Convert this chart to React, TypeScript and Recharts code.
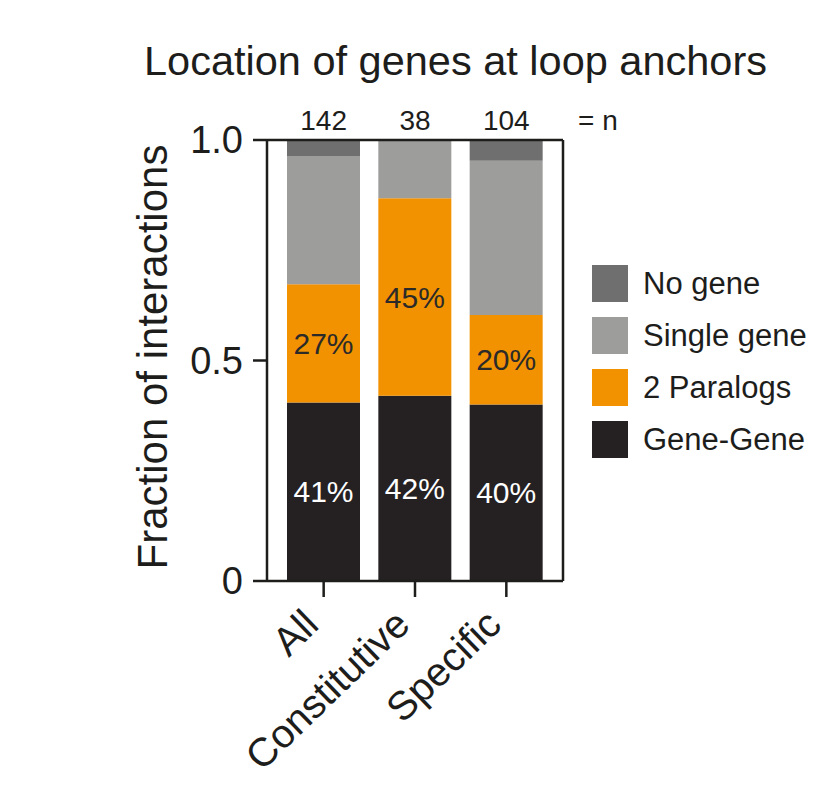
import React from "react";
import {
  BarChart,
  Bar,
  XAxis,
  YAxis,
  LabelList,
  Label,
} from "recharts";

const categories = ["All", "Constitutive", "Specific"];
const nCounts = ["142", "38", "104"];
const geneGene = [0.405, 0.42, 0.4];
const paralogs = [0.268, 0.448, 0.203];
const singleGene = [0.291, 0.132, 0.35];
const noGene = [0.036, 0, 0.047];
const geneGeneLabels = ["41%", "42%", "40%"];
const paralogLabels = ["27%", "45%", "20%"];
const yTicks = [0, 0.5, 1];
const yTickLabels = ["0", "0.5", "1.0"];

const legendItems = [
  { name: "No gene", color: "#706f6f" },
  { name: "Single gene", color: "#9d9d9c" },
  { name: "2 Paralogs", color: "#f39200" },
  { name: "Gene-Gene", color: "#252122" },
];

const INK = "#1d1d1b";
const FONT = "'Liberation Sans', Arial, Helvetica, sans-serif";

const data = categories.map((name, i) => ({
  name,
  geneGene: geneGene[i],
  paralogs: paralogs[i],
  singleGene: singleGene[i],
  noGene: noGene[i],
  geneLabel: geneGeneLabels[i],
  paraLabel: paralogLabels[i],
}));

function SlantTick(props: any) {
  const { x, y, payload } = props;
  return (
    <g transform={`translate(${x - 3},${y + 28})`}>
      <text
        textAnchor="end"
        transform="rotate(-44)"
        fontSize={40}
        fill={INK}
        fontFamily={FONT}
      >
        {payload.value}
      </text>
    </g>
  );
}

export default function App() {
  return (
    <div style={{ position: "relative", width: 838, height: 786, fontFamily: FONT }}>
      <style>{"body{margin:0}"}</style>
      <div
        style={{
          position: "absolute",
          left: 100,
          width: 711,
          top: 40,
          textAlign: "center",
          fontSize: 41.5,
          lineHeight: "41px",
          color: INK,
        }}
      >
        Location of genes at loop anchors
      </div>
      <BarChart
        width={838}
        height={786}
        data={data}
        margin={{ top: 100, right: 274, bottom: 0, left: 0 }}
        barSize={73}
      >
        <XAxis
          dataKey="name"
          height={205}
          padding={{ left: 11, right: 11 }}
          axisLine={{ stroke: INK, strokeWidth: 2.5 }}
          tickLine={{ stroke: INK, strokeWidth: 2.5 }}
          tickSize={16}
          tick={<SlantTick />}
          interval={0}
        />
        <XAxis
          xAxisId="top"
          orientation="top"
          dataKey="name"
          height={40}
          padding={{ left: 11, right: 11 }}
          axisLine={{ stroke: INK, strokeWidth: 2.5 }}
          tickLine={false}
          tickSize={0}
          tickMargin={10}
          interval={0}
          tickFormatter={(_v: any, i: number) => nCounts[i]}
          tick={{ fontSize: 28, fill: INK, fontFamily: FONT }}
        >
          <Label
            value="= n"
            position="right"
            offset={15}
            fontSize={28}
            fill={INK}
            fontFamily={FONT}
          />
        </XAxis>
        <YAxis
          width={267}
          domain={[0, 1]}
          ticks={yTicks}
          allowDataOverflow
          tickFormatter={(v: number) => yTickLabels[yTicks.indexOf(v)]}
          axisLine={{ stroke: INK, strokeWidth: 2.5 }}
          tickLine={{ stroke: INK, strokeWidth: 2.5 }}
          tickSize={14}
          tickMargin={10}
          tick={{ fontSize: 38, fill: INK, fontFamily: FONT }}
        >
          <Label
            content={() => (
              <text
                transform="translate(167,357) rotate(-90)"
                textAnchor="middle"
                fontSize={42}
                fill={INK}
                fontFamily={FONT}
              >
                Fraction of interactions
              </text>
            )}
          />
        </YAxis>
        <YAxis
          yAxisId="right"
          orientation="right"
          width={1}
          domain={[0, 1]}
          tick={false}
          tickLine={false}
          axisLine={{ stroke: INK, strokeWidth: 2.5 }}
        />
        <Bar dataKey="geneGene" stackId="s" fill="#252122" isAnimationActive={false}>
          <LabelList
            dataKey="geneLabel"
            position="center"
            fill="#ffffff"
            fontSize={30}
            fontFamily={FONT}
          />
        </Bar>
        <Bar dataKey="paralogs" stackId="s" fill="#f39200" isAnimationActive={false}>
          <LabelList
            dataKey="paraLabel"
            position="center"
            fill="#2b2a29"
            fontSize={30}
            fontFamily={FONT}
          />
        </Bar>
        <Bar dataKey="singleGene" stackId="s" fill="#9d9d9c" isAnimationActive={false} />
        <Bar dataKey="noGene" stackId="s" fill="#706f6f" isAnimationActive={false} />
      </BarChart>
      <div
        style={{
          position: "absolute",
          left: 592,
          top: 265,
          display: "flex",
          flexDirection: "column",
          gap: 15,
        }}
      >
        {legendItems.map((it) => (
          <div key={it.name} style={{ display: "flex", alignItems: "center", height: 37 }}>
            <div style={{ width: 36, height: 37, background: it.color, marginRight: 15 }} />
            <span style={{ fontSize: 31, lineHeight: "37px", color: INK }}>{it.name}</span>
          </div>
        ))}
      </div>
    </div>
  );
}
